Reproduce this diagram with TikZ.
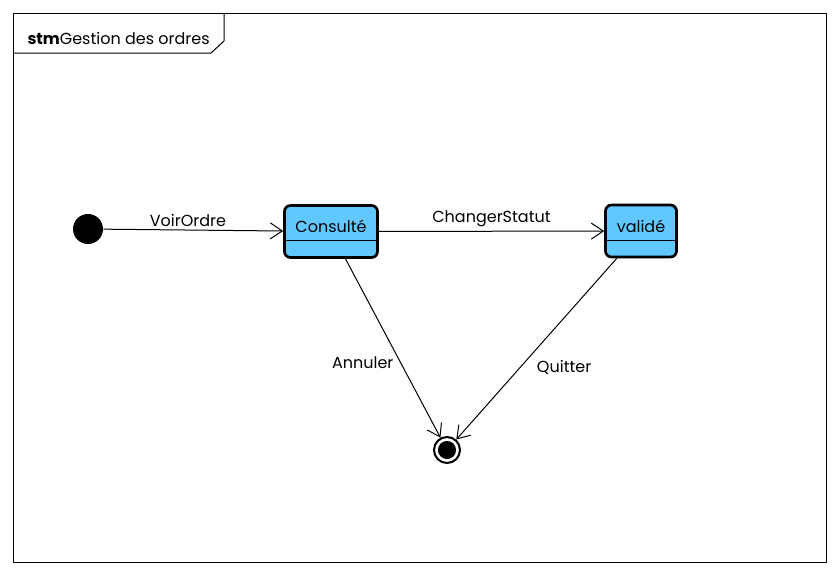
\documentclass[tikz,border=0pt]{standalone}
\usepackage{fontspec}
\setmainfont{Poppins}
\usetikzlibrary{arrows.meta}
\definecolor{stateblue}{RGB}{97,200,255}

\begin{document}
\begin{tikzpicture}[x=0.75pt,y=-0.75pt,line width=0.75pt,->,>={Straight Barb[length=9pt,width=12pt]},font=\fontsize{12}{14}\selectfont]
    \tikzstyle{state}=[rectangle,rounded corners=4.5pt,draw=black,line width=2pt,fill=stateblue,minimum height=39pt,inner sep=0pt]
    \tikzstyle{initial}=[circle,fill=black,minimum size=22.5pt,inner sep=0pt]
    \tikzstyle{final}=[circle,draw=black,line width=1.5pt,fill=white,minimum size=19.5pt,inner sep=0pt,
      path picture={\fill[black] (path picture bounding box.center) circle (6.8pt);}]
    \tikzstyle{stext}=[inner sep=0pt]
    \useasboundingbox (0,0) rectangle (838,576);
    % Draw the frame
    \draw[-] (13,13) rectangle (826,562);
    \draw[-] (13,53) -- (211,53) -- (224,41) -- (224,13);
    \node[anchor=base west,inner sep=0pt] (Titre) at (27,44) {\textbf{stm}Gestion des ordres};
    % Draw the states
    \node[initial] (Init) at (88,229) {};
    \node[state,minimum width=69.75pt] (Cons) at (331,231.5) {};
    \node[state,minimum width=53.25pt] (Val) at (641,231) {};
    \node[final] (Fin) at (447,450) {};
    \draw[-] ([yshift=13.5pt]Cons.south west) -- ([yshift=13.5pt]Cons.south east);
    \draw[-] ([yshift=13.5pt]Val.south west) -- ([yshift=13.5pt]Val.south east);
    \node[stext] (ConsT) at (331,226) {Consulté};
    \node[stext] (ValT) at (641,226) {validé};
    % Draw the transitions
    \path (Init) edge node[above,pos=0.47,inner sep=2pt] {VoirOrdre} (Cons);
    \path (Cons) edge node[above,inner sep=3pt] {ChangerStatut} (Val);
    \path (Cons) edge node[left,pos=0.58,inner sep=5pt] {Annuler} (Fin);
    \path (Val) edge node[right,pos=0.6,inner sep=12pt] {Quitter} (Fin);
\end{tikzpicture}
\end{document}
